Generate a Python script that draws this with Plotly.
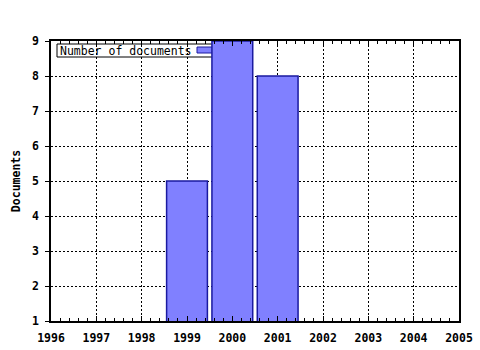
import plotly.graph_objects as go

years = [1999, 2000, 2001]
documents = [5, 9, 8]
series_name = "Number of documents"
x_ticks = list(range(1996, 2006))
y_ticks = list(range(1, 10))

W, H = 480, 350
L, R, T, B = 51, 21, 41, 29
pw, ph = W - L - R, H - T - B

def px_x(p):
    return (p - L) / pw

def px_y(p):
    return (H - B - p) / ph

font = "DejaVu Sans Mono"

fig = go.Figure()
fig.add_trace(go.Bar(
    x=years, y=documents, width=0.9, name=series_name,
    marker=dict(color="#8080ff", line=dict(color="#1a1aa0", width=1.5)),
    showlegend=False,
))

fig.update_layout(
    width=W, height=H,
    margin=dict(l=L, r=R, t=T, b=B, pad=0, autoexpand=False),
    paper_bgcolor="white", plot_bgcolor="white",
    font=dict(family=font, size=11, color="black"),
    xaxis=dict(
        range=[1996, 2005], tickvals=x_ticks, ticktext=[str(v) for v in x_ticks],
        showline=True, linecolor="black", linewidth=1.5, mirror="ticks",
        ticks="inside", ticklen=5, tickcolor="black", tickwidth=1,
        minor=dict(dtick=0.2, ticks="inside", ticklen=3, tickcolor="black", showgrid=False),
        showgrid=True, gridcolor="black", griddash="2px,2px", gridwidth=1,
        tickfont=dict(family=font, size=11.5, weight="bold"),
        ticklabelstandoff=5,
        zeroline=False, fixedrange=True, automargin=False,
    ),
    yaxis=dict(
        range=[1, 9], tickvals=y_ticks, ticktext=[str(v) for v in y_ticks],
        showline=True, linecolor="black", linewidth=1.5, mirror=True,
        ticks="outside", ticklen=4, tickcolor="black",
        showgrid=True, gridcolor="black", griddash="2px,2px", gridwidth=1,
        tickfont=dict(family=font, size=11.5, weight="bold"),
        ticklabelstandoff=4,
        title=dict(text="Documents", font=dict(family=font, size=11.5, weight="bold"), standoff=9),
        zeroline=False, fixedrange=True, automargin=False,
    ),
    bargap=0.1,
)

# legend box (drawn below bars like the original)
fig.add_shape(type="rect", xref="paper", yref="paper",
              x0=px_x(57), x1=px_x(214), y0=px_y(57), y1=px_y(44),
              fillcolor="white", line=dict(color="black", width=1), layer="below")
fig.add_shape(type="rect", xref="paper", yref="paper",
              x0=px_x(197), x1=px_x(214), y0=px_y(53), y1=px_y(47),
              fillcolor="#8080ff", line=dict(color="#1a1aa0", width=1), layer="below")
fig.add_annotation(xref="paper", yref="paper", x=px_x(57.5), y=px_y(50.5),
                   xanchor="left", yanchor="middle", showarrow=False,
                   text=series_name, font=dict(family=font, size=11.5, color="black"))

fig.write_html("out.html")
